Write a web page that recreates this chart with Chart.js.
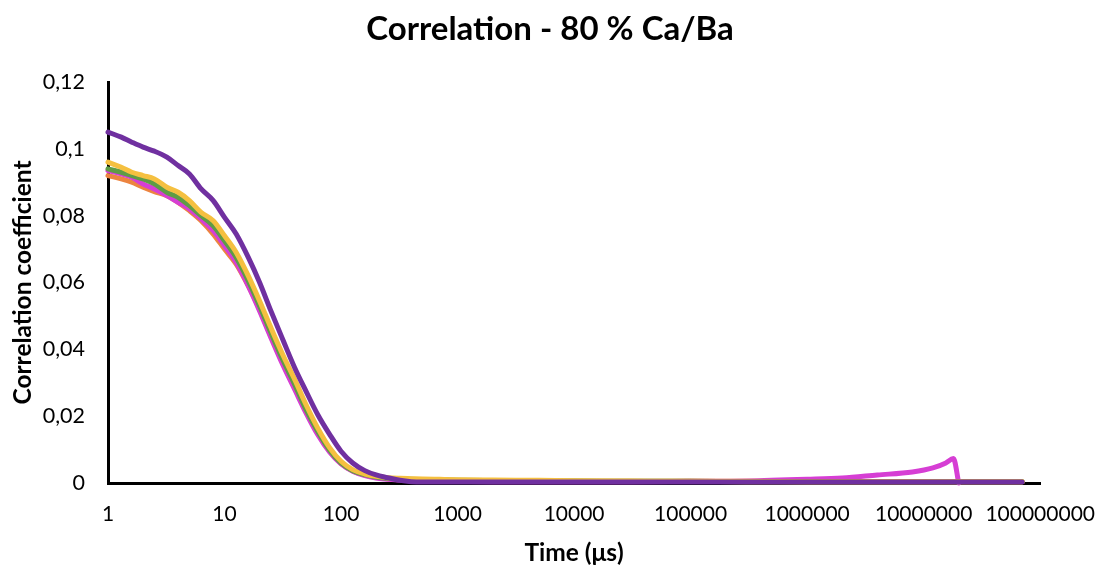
<!DOCTYPE html>
<html>
<head>
<meta charset="utf-8">
<script src="https://cdn.jsdelivr.net/npm/chart.js@4/dist/chart.umd.min.js"></script>
<style>
  html, body { margin: 0; padding: 0; background: #ffffff; }
  #wrap { width: 1114px; height: 572px; }
</style>
</head>
<body>
<div id="wrap"><canvas id="c" width="1114" height="572"></canvas></div>
<script>
// ---- data ----
const times = [1, 1.3, 1.6, 2, 2.5, 3.2, 4, 5, 6.3, 8, 10, 12.6, 16, 20, 25, 32, 40, 50, 63, 80,
  100, 126, 160, 200, 250, 320, 400, 500, 700, 1000, 2000, 5000, 10000, 30000, 100000, 300000,
  1000000, 2000000, 4000000, 8000000, 12000000, 15500000, 18000000, 20000000, 40000000, 70000000];

const purple = [0.105, 0.1035, 0.102, 0.1005, 0.0993, 0.0975, 0.095, 0.0925, 0.088, 0.0845,
  0.0795, 0.0745, 0.0675, 0.060, 0.0515, 0.0425, 0.0345, 0.0275, 0.0205, 0.0145,
  0.0095, 0.0060, 0.0037, 0.0024, 0.0016, 0.0008, 0.0004, 0.0003, 0.0003, 0.0003,
  0.0003, 0.0003, 0.0003, 0.0003, 0.0003, 0.0003, 0.0003, 0.0003, 0.0003, 0.0003,
  0.0003, 0.0003, 0.0003, 0.0003, 0.0003, 0.0003];

const yellow = [0.096, 0.0945, 0.093, 0.092, 0.091, 0.0885, 0.087, 0.0845, 0.081, 0.0785,
  0.074, 0.069, 0.062, 0.0545, 0.0465, 0.038, 0.031, 0.0235, 0.0165, 0.0105,
  0.0065, 0.0040, 0.0027, 0.0020, 0.0016, 0.0014, 0.0013, 0.0012, 0.0011, 0.0010,
  0.0009, 0.0008, 0.0007, 0.0006, 0.0005, 0.0005, 0.0004, 0.0004, 0.0004, 0.0004,
  0.0004, 0.0004, 0.0004, 0.0004, 0.0004, 0.0004];

const green = [0.094, 0.093, 0.092, 0.091, 0.0895, 0.087, 0.0855, 0.083, 0.080, 0.077,
  0.0725, 0.0675, 0.0605, 0.053, 0.045, 0.0365, 0.0295, 0.022, 0.0155, 0.0098,
  0.0060, 0.0037, 0.0025, 0.0018, 0.0014, 0.0012, 0.0011, 0.0010, 0.0009, 0.0008,
  0.0007, 0.0006, 0.0006, 0.0005, 0.0005, 0.0004, 0.0004, 0.0004, 0.0004, 0.0004,
  0.0004, 0.0004, 0.0004, 0.0004, 0.0004, 0.0004];

const magenta = [0.0935, 0.0925, 0.0915, 0.0895, 0.088, 0.086, 0.084, 0.082, 0.079, 0.0755,
  0.071, 0.066, 0.059, 0.0515, 0.0435, 0.035, 0.028, 0.021, 0.0145, 0.0092,
  0.0057, 0.0035, 0.0022, 0.0015, 0.0011, 0.0009, 0.0008, 0.0007, 0.0006, 0.0005,
  0.0004, 0.0004, 0.0004, 0.0004, 0.0005, 0.0006, 0.0011, 0.0015, 0.0024, 0.0033,
  0.0045, 0.0060, 0.0073, 0.0, null, null];

const orange = [0.092, 0.091, 0.090, 0.0885, 0.0872, 0.086, 0.084, 0.0815, 0.0785, 0.0745,
  0.070, 0.0655, 0.059, 0.052, 0.044, 0.0355, 0.0285, 0.0215, 0.015, 0.0095,
  0.0058, 0.0036, 0.0024, 0.0017, 0.0013, 0.0011, 0.0010, 0.0009, 0.0008, 0.0007,
  0.0006, 0.0006, 0.0005, 0.0005, 0.0005, 0.0004, 0.0004, 0.0004, 0.0004, 0.0004,
  0.0004, 0.0004, 0.0004, 0.0004, 0.0004, 0.0004];

const xTickValues = [1, 10, 100, 1000, 10000, 100000, 1000000, 10000000, 100000000];
const xTickLabels = ['1', '10', '100', '1000', '10000', '100000', '1000000', '10000000', '100000000'];
const yTickValues = [0, 0.02, 0.04, 0.06, 0.08, 0.1, 0.12];
const yTickLabels = ['0', '0,02', '0,04', '0,06', '0,08', '0,1', '0,12'];

const titleText = 'Correlation - 80 % Ca/Ba';
const xTitle = 'Time (\u03bcs)';
const yTitle = 'Correlation coefficient';

// ---- chart ----
const FONT = 'Lato, "Open Sans", sans-serif';
function series(vals) { return times.map((t, i) => ({ x: t, y: vals[i] })); }
function ds(label, vals, color) {
  return {
    label, data: series(vals), borderColor: color, backgroundColor: color,
    borderWidth: 5, pointRadius: 0, pointHoverRadius: 0, tension: 0.3,
    cubicInterpolationMode: 'monotone', spanGaps: false, clip: false,
    borderCapStyle: 'round', borderJoinStyle: 'round'
  };
}

// Chart title drawn as canvas text, centred on the whole canvas
const titlePlugin = {
  id: 'pageTitle',
  afterDraw(chart) {
    const ctx = chart.ctx;
    ctx.save();
    ctx.fillStyle = '#000000';
    ctx.font = 'bold 33px ' + FONT;
    ctx.textAlign = 'center';
    ctx.textBaseline = 'middle';
    ctx.fillText(titleText, 550, 29);
    ctx.restore();
  }
};

new Chart(document.getElementById('c'), {
  type: 'line',
  data: {
    datasets: [
      ds('Series 5', purple, '#7030A0'),
      ds('Series 4', yellow, '#F5C040'),
      ds('Series 3', green, '#5E9C45'),
      ds('Series 2', magenta, '#D63ED4'),
      ds('Series 1', orange, '#EC8440')
    ]
  },
  plugins: [titlePlugin],
  options: {
    responsive: false,
    animation: false,
    devicePixelRatio: 1,
    layout: { padding: { left: 0, right: 72, top: 82, bottom: 0 } },
    plugins: {
      legend: { display: false },
      tooltip: { enabled: false },
      title: { display: false }
    },
    scales: {
      x: {
        type: 'logarithmic', min: 1, max: 100000000,
        grid: { display: false, drawTicks: false, tickLength: 0 },
        border: { display: true, color: '#000000', width: 3 },
        afterBuildTicks: s => { s.ticks = xTickValues.map(v => ({ value: v })); },
        afterFit: s => { s.height = 89; },
        ticks: {
          color: '#000000', padding: 19, maxRotation: 0, autoSkip: false,
          font: { family: FONT, size: 21, lineHeight: 1.2 },
          callback: (v, i) => xTickLabels[i]
        },
        title: {
          display: true, text: xTitle, color: '#000000',
          font: { family: FONT, size: 24.5, weight: 'bold', lineHeight: 1.2 },
          padding: { top: 0, bottom: 4 }
        }
      },
      y: {
        type: 'linear', min: 0, max: 0.12,
        grid: { display: false, drawTicks: false, tickLength: 0 },
        border: { display: true, color: '#000000', width: 3 },
        afterBuildTicks: s => { s.ticks = yTickValues.map(v => ({ value: v })); },
        afterFit: s => { s.width = 108; },
        ticks: {
          color: '#000000', padding: 23, autoSkip: false,
          font: { family: FONT, size: 21.5, lineHeight: 1.2 },
          callback: (v, i) => yTickLabels[i]
        },
        title: {
          display: true, text: yTitle, color: '#000000',
          font: { family: FONT, size: 24.5, weight: 'bold', lineHeight: 1.2 },
          padding: { top: 8, bottom: 0 }
        }
      }
    }
  }
});
</script>
</body>
</html>
